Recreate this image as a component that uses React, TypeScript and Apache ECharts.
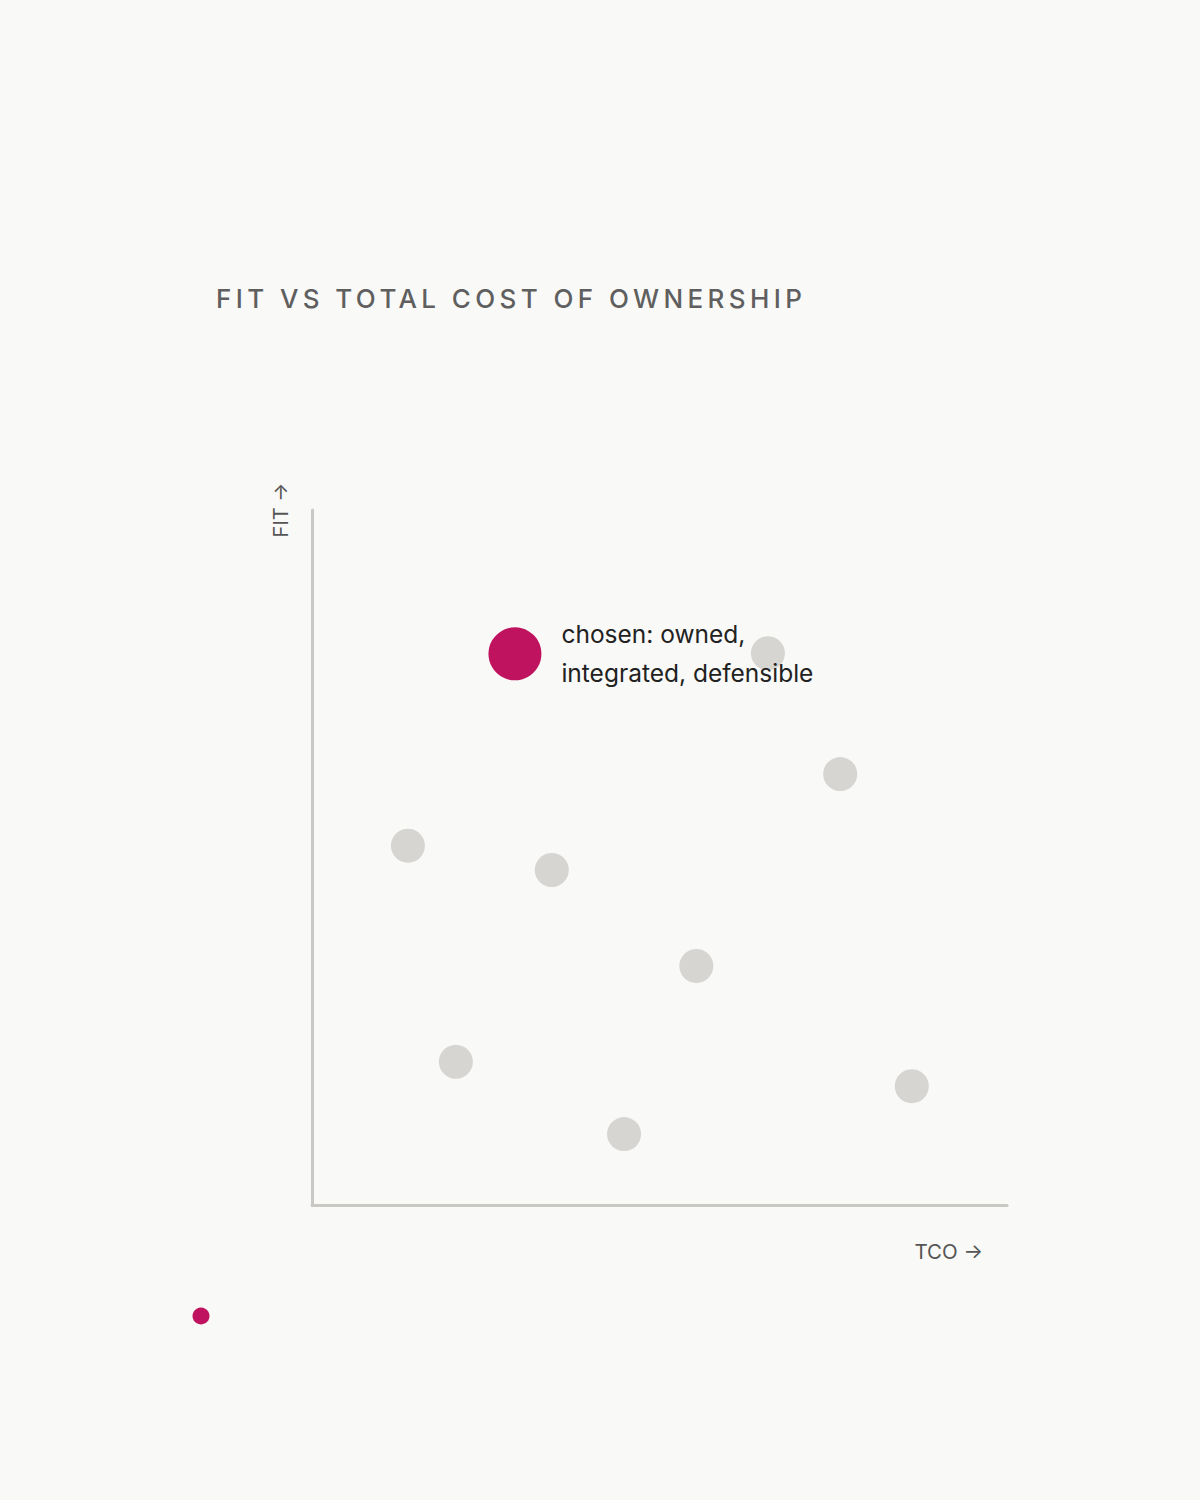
import React, { useEffect, useRef } from "react";
import * as echarts from "echarts";

const TITLE = "FIT VS TOTAL COST OF OWNERSHIP";
const X_NAME = "TCO →";
const Y_NAME = "FIT →";
const CHOSEN_LABEL = "chosen: owned,\nintegrated, defensible";

// [TCO, FIT] on a 0–100 scale
const otherOptions: number[][] = [
  [13.8, 51.7],
  [20.7, 20.6],
  [34.5, 48.2],
  [44.9, 10.2],
  [55.3, 34.4],
  [65.6, 79.4],
  [76.0, 62.0],
  [86.3, 17.1],
];
const chosenOption: number[][] = [[29.2, 79.3]];

const AXIS_MIN = 0;
const AXIS_MAX = 100;
const BG = "#f9f9f7";

export default function App() {
  const ref = useRef<HTMLDivElement>(null);

  useEffect(() => {
    if (!ref.current) return;
    document.body.style.margin = "0";
    document.body.style.background = BG;
    const chart = echarts.init(ref.current, undefined, { renderer: "svg" });
    const font = "Inter, 'Noto Sans', sans-serif";
    chart.setOption({
      animation: false,
      backgroundColor: BG,
      textStyle: { fontFamily: font },
      title: {
        text: TITLE,
        left: 211,
        top: 280,
        textStyle: {
          fontFamily: font,
          fontSize: 26,
          fontWeight: 500,
          color: "#5f5f5f",
        },
      },
      grid: { left: 312, right: 193, top: 510, bottom: 295 },
      xAxis: {
        type: "value",
        min: AXIS_MIN,
        max: AXIS_MAX,
        axisLine: { show: true, lineStyle: { color: "#c9c8c5", width: 3 } },
        axisTick: { show: false },
        axisLabel: { show: false },
        splitLine: { show: false },
      },
      yAxis: {
        type: "value",
        min: AXIS_MIN,
        max: AXIS_MAX,
        axisLine: { show: true, lineStyle: { color: "#c9c8c5", width: 3 } },
        axisTick: { show: false },
        axisLabel: { show: false },
        splitLine: { show: false },
      },
      graphic: [
        {
          type: "text",
          x: 281,
          y: 510,
          rotation: Math.PI / 2,
          style: {
            text: Y_NAME,
            fill: "#555555",
            font: `20px ${font}`,
            align: "center",
            verticalAlign: "middle",
          },
        },
        {
          type: "text",
          x: 983,
          y: 1251,
          style: {
            text: X_NAME,
            fill: "#555555",
            font: `20.5px ${font}`,
            align: "right",
            verticalAlign: "middle",
          },
        },
        {
          type: "circle",
          shape: { cx: 201, cy: 1316, r: 8.5 },
          style: { fill: "#c0135f" },
        },
      ],
      series: [
        {
          type: "scatter",
          data: otherOptions,
          symbolSize: 34,
          itemStyle: { color: "#d6d5d2", opacity: 1 },
          silent: true,
        },
        {
          type: "scatter",
          data: chosenOption,
          symbolSize: 53,
          itemStyle: { color: "#c0135f", opacity: 1 },
          silent: true,
          label: {
            show: true,
            position: "right",
            distance: 20,
            formatter: CHOSEN_LABEL,
            color: "#222222",
            fontFamily: font,
            fontSize: 24.5,
            lineHeight: 39,
          },
        },
      ],
    });
    const texts = ref.current.querySelectorAll("text");
    texts.forEach((t) => {
      if (t.textContent === TITLE) t.setAttribute("letter-spacing", "4.4");
    });
    return () => chart.dispose();
  }, []);

  return <div ref={ref} style={{ width: 1200, height: 1500 }} />;
}
